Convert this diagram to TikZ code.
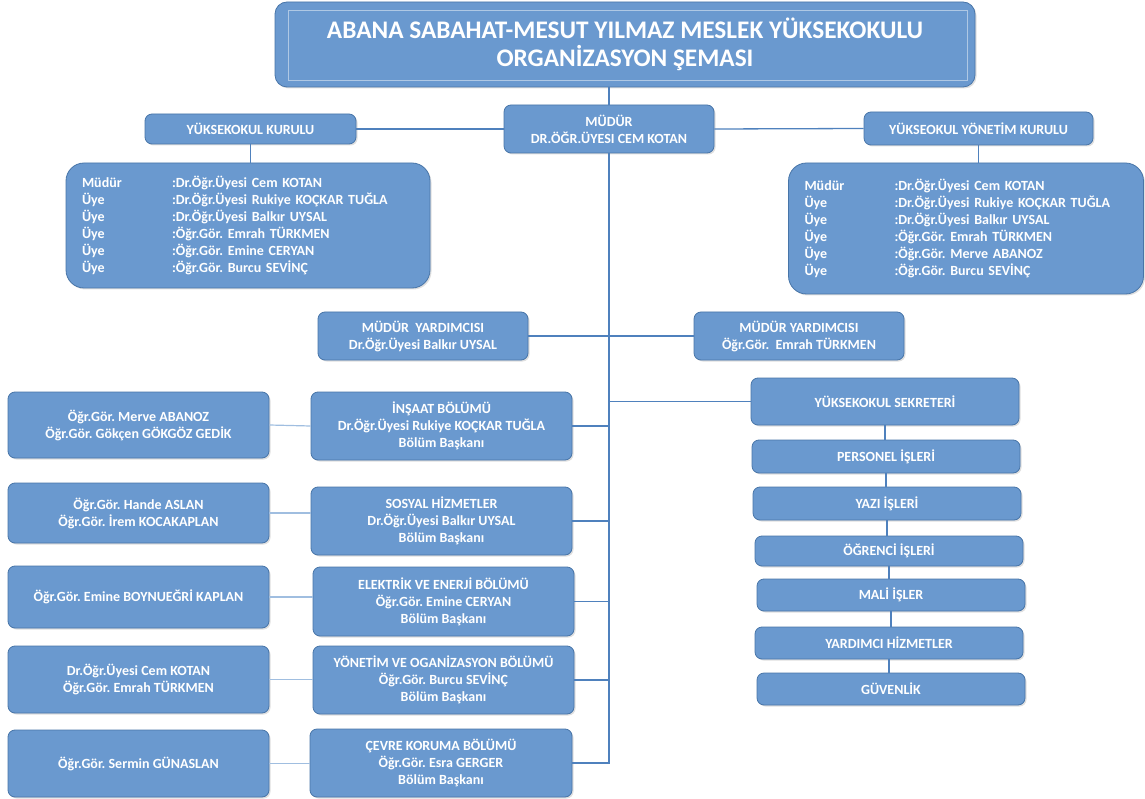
\documentclass[tikz,border=0pt]{standalone}
\usepackage{fontspec}
\setmainfont{Carlito}
\frenchspacing
\usetikzlibrary{positioning, shadows}

\definecolor{boxfill}{RGB}{106,153,207}
\definecolor{boxline}{RGB}{72,117,168}
\definecolor{linkcol}{RGB}{79,129,189}
\definecolor{linklight}{RGB}{160,190,224}
\definecolor{framecol}{RGB}{175,200,228}

\tikzset{
  unit/.style={draw=boxline, fill=boxfill, rounded corners=7pt, line width=0.8pt,
    text=white, font=\bfseries\fontsize{14}{17}\selectfont, align=center, inner sep=0pt,
    drop shadow={shadow xshift=1.5pt, shadow yshift=-1.5pt, opacity=0.25}},
  board/.style={unit, rounded corners=18pt, align=left, inner xsep=16pt},
  link/.style={draw=linkcol, line width=1.3pt},
  sidelink/.style={draw=linklight, line width=1.2pt}
}

\begin{document}
\begin{tikzpicture}[x=1pt, y=-1pt]
\useasboundingbox (0,0) rectangle (1145,799);

% ust kisim
\node[unit, rounded corners=12pt, minimum width=700pt, minimum height=85pt,
  font=\bfseries\fontsize{25.3}{28}\selectfont] (title) at (625,44.5)
  {ABANA SABAHAT-MESUT YILMAZ MESLEK YÜKSEKOKULU\\ORGANİZASYON ŞEMASI};
\draw[framecol, line width=0.8pt] ([shift={(14pt,-9pt)}]title.north west) rectangle ([shift={(-8pt,7pt)}]title.south east);

\node[unit, minimum width=210pt, minimum height=48pt] (mudur) at (609,129) {MÜDÜR\\DR.ÖĞR.ÜYESI CEM KOTAN};
\node[unit, minimum width=211pt, minimum height=30pt] (yk) at (250.5,129) {YÜKSEKOKUL KURULU};
\node[unit, minimum width=229pt, minimum height=33pt] (yyk) at (978.5,128.5) {YÜKSEOKUL YÖNETİM KURULU};

\node[board, text width=332pt, minimum height=125pt] (kurul) at (248,225.5)
  {\makebox[90pt][l]{Müdür}:Dr.Öğr.Üyesi Cem KOTAN\\
   \makebox[90pt][l]{Üye}:Dr.Öğr.Üyesi Rukiye KOÇKAR TUĞLA\\
   \makebox[90pt][l]{Üye}:Dr.Öğr.Üyesi Balkır UYSAL\\
   \makebox[90pt][l]{Üye}:Öğr.Gör. Emrah TÜRKMEN\\
   \makebox[90pt][l]{Üye}:Öğr.Gör. Emine CERYAN\\
   \makebox[90pt][l]{Üye}:Öğr.Gör. Burcu SEVİNÇ};
\node[board, text width=323pt, minimum height=131pt] (ykurul) at (966,228.5)
  {\makebox[90pt][l]{Müdür}:Dr.Öğr.Üyesi Cem KOTAN\\
   \makebox[90pt][l]{Üye}:Dr.Öğr.Üyesi Rukiye KOÇKAR TUĞLA\\
   \makebox[90pt][l]{Üye}:Dr.Öğr.Üyesi Balkır UYSAL\\
   \makebox[90pt][l]{Üye}:Öğr.Gör. Emrah TÜRKMEN\\
   \makebox[90pt][l]{Üye}:Öğr.Gör. Merve ABANOZ\\
   \makebox[90pt][l]{Üye}:Öğr.Gör. Burcu SEVİNÇ};

\node[unit, minimum width=210pt, minimum height=48pt] (vl) at (423,336) {MÜDÜR\ \ YARDIMCISI\\Dr.Öğr.Üyesi Balkır UYSAL};
\node[unit, minimum width=210pt, minimum height=48pt] (vr) at (799,336) {MÜDÜR YARDIMCISI\\Öğr.Gör.\ \ Emrah TÜRKMEN};

% sekreterlik
\node[unit, minimum width=268pt, minimum height=47pt] (sek) at (885,401.5) {YÜKSEKOKUL SEKRETERİ};
\node[unit, minimum width=268pt, minimum height=33pt] (per) at (886,456.5) {PERSONEL İŞLERİ};
\node[unit, minimum width=268pt, minimum height=33pt] (yazi) at (887,503.5) {YAZI İŞLERİ};
\node[unit, minimum width=268pt, minimum height=30pt] (ogr) at (889,551) {ÖĞRENCİ İŞLERİ};
\node[unit, minimum width=268pt, minimum height=32pt] (mali) at (891,595) {MALİ İŞLER};
\node[unit, minimum width=268pt, minimum height=32pt] (yard) at (889,643) {YARDIMCI HİZMETLER};
\node[unit, minimum width=268pt, minimum height=32pt] (guv) at (891,689) {GÜVENLİK};

% bolumler
\node[unit, minimum width=261pt, minimum height=68pt] (insaat) at (441.5,426) {İNŞAAT BÖLÜMÜ\\Dr.Öğr.Üyesi Rukiye KOÇKAR TUĞLA\\Bölüm Başkanı};
\node[unit, minimum width=261pt, minimum height=68pt] (sosyal) at (441.5,521) {SOSYAL HİZMETLER\\Dr.Öğr.Üyesi Balkır UYSAL\\Bölüm Başkanı};
\node[unit, minimum width=261pt, minimum height=69pt] (elek) at (443.5,601.5) {ELEKTRİK VE ENERJİ BÖLÜMÜ\\Öğr.Gör. Emine CERYAN\\Bölüm Başkanı};
\node[unit, minimum width=261pt, minimum height=68pt] (yonetim) at (443.5,680) {YÖNETİM VE OGANİZASYON BÖLÜMÜ\\Öğr.Gör. Burcu SEVİNÇ\\Bölüm Başkanı};
\node[unit, minimum width=262pt, minimum height=68pt] (cevre) at (441,763) {ÇEVRE KORUMA BÖLÜMÜ\\Öğr.Gör. Esra GERGER\\Bölüm Başkanı};

% ogretim elemanlari
\node[unit, minimum width=261pt, minimum height=66pt] (merve) at (138.5,425) {Öğr.Gör. Merve ABANOZ\\Öğr.Gör. Gökçen GÖKGÖZ GEDİK};
\node[unit, minimum width=261pt, minimum height=60pt] (hande) at (138.5,513) {Öğr.Gör. Hande ASLAN\\Öğr.Gör. İrem KOCAKAPLAN};
\node[unit, minimum width=261pt, minimum height=62pt] (emine) at (138.5,597) {Öğr.Gör. Emine BOYNUEĞRİ KAPLAN};
\node[unit, minimum width=261pt, minimum height=67pt] (cem) at (138.5,679.5) {Dr.Öğr.Üyesi Cem KOTAN\\Öğr.Gör. Emrah TÜRKMEN};
\node[unit, minimum width=261pt, minimum height=67pt] (sermin) at (138.5,763.5) {Öğr.Gör. Sermin GÜNASLAN};

\coordinate (spine) at (610,763);

% baglantilar
\draw[link] (mudur.north) -- (mudur.north |- title.south);
\draw[link] (mudur.west) -- (yk.east);
\draw[link] (mudur.east) -- (yyk.west);
\draw[link] (yk.south) -- (yk.south |- kurul.north);
\draw[link] (yyk.south) -- (yyk.south |- ykurul.north);
\draw[link] (mudur.south) -- (mudur.south |- spine);
\draw[link] (vl.east) -- (vr.west);
\draw[link] (sek.west) -- (sek.west -| spine);
\draw[link] (insaat.east) -- (insaat.east -| spine);
\draw[link] (sosyal.east) -- (sosyal.east -| spine);
\draw[link] (elek.east) -- (elek.east -| spine);
\draw[link] (yonetim.east) -- (yonetim.east -| spine);
\draw[link] (cevre.east) -- (spine);
\draw[link] (sek.south) -- (sek.south |- per.north);
\draw[link] (per.south) -- (per.south |- yazi.north);
\draw[link] (yazi.south) -- (yazi.south |- ogr.north);
\draw[link] (ogr.south) -- (ogr.south |- mali.north);
\draw[link] (mali.south) -- (mali.south |- yard.north);
\draw[link] (yard.south) -- (yard.south |- guv.north);
\draw[sidelink] (merve.east) -- (insaat.west);
\draw[sidelink] (hande.east) -- (hande.east -| sosyal.west);
\draw[sidelink] (emine.east) -- (emine.east -| elek.west);
\draw[sidelink] (cem.east) -- (cem.east -| yonetim.west);
\draw[sidelink] (sermin.east) -- (sermin.east -| cevre.west);
\end{tikzpicture}
\end{document}
